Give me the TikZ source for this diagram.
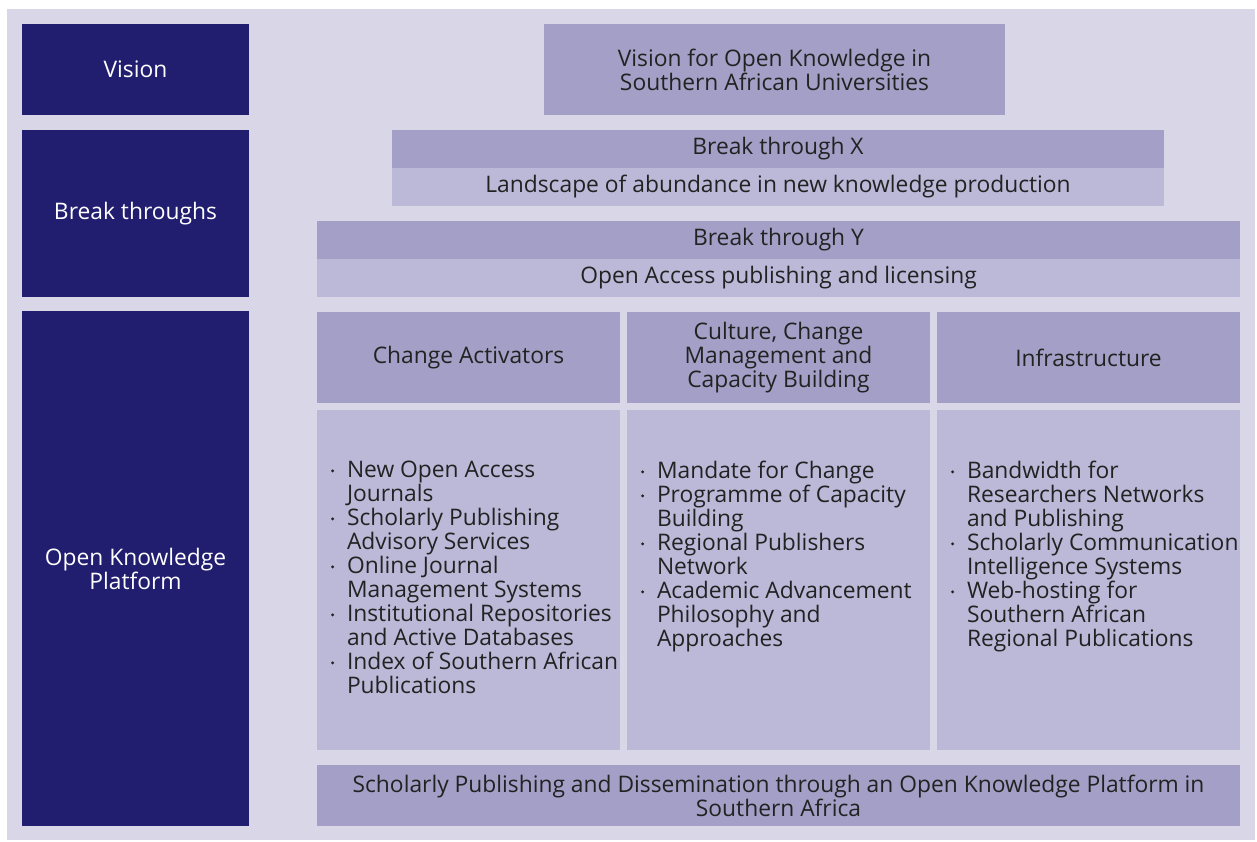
\documentclass[tikz,border=0pt]{standalone}
\usepackage{fontspec}
\setmainfont{Open Sans}
\definecolor{bgc}{HTML}{D8D6E7}
\definecolor{navy}{HTML}{221E6F}
\definecolor{hdr}{HTML}{A39FC6}
\definecolor{lite}{HTML}{BCB8D8}
\definecolor{txt}{HTML}{222222}
\newcommand{\bitem}[1]{\makebox[16pt][l]{\raisebox{5pt}{\tikz\fill[txt] (0,0) circle (1.6pt);}}#1}
\newcommand{\bcont}[1]{\hspace*{16pt}#1}
\tikzset{
  every node/.style={inner sep=0pt, outer sep=0pt, font=\fontsize{22.8}{24}\selectfont},
  sidebox/.style={anchor=north west, fill=navy, text=white, align=center},
  hdrbox/.style={anchor=north west, fill=hdr, text=txt, align=center},
  litebox/.style={anchor=north west, fill=lite, text=txt, align=center},
  listtext/.style={anchor=north west, text=txt, align=left}
}
\begin{document}
\begin{tikzpicture}[x=1pt,y=-1pt]
\useasboundingbox (0,0) rectangle (1257,842);
\fill[bgc] (7,9) rectangle (1255,840);
% left column
\node[sidebox, minimum width=227pt, minimum height=91pt] (vis) at (22,24) {Vision};
\node[sidebox, minimum width=227pt, minimum height=167pt] (brk) at (22,130) {Break throughs};
\node[sidebox, minimum width=227pt, minimum height=515pt] (okp) at (22,311) {Open Knowledge\\Platform};
% vision
\node[hdrbox, minimum width=461pt, minimum height=91pt] (vtop) at (544,24) {Vision for Open Knowledge in\\Southern African Universities};
% break through X
\node[hdrbox, minimum width=772pt, minimum height=38pt] (bx) at (392,130) {Break through X};
\node[litebox, minimum width=772pt, minimum height=38pt] (bxl) at (392,168) {Landscape of abundance in new knowledge production};
% break through Y
\node[hdrbox, minimum width=923pt, minimum height=38pt] (by) at (317,221) {Break through Y};
\node[litebox, minimum width=923pt, minimum height=38pt] (byl) at (317,259) {Open Access publishing and licensing};
% column headers
\node[hdrbox, minimum width=303pt, minimum height=91pt] (h1) at (317,312) {Change Activators};
\node[hdrbox, minimum width=303pt, minimum height=91pt] (h2) at (627,312) {Culture, Change\\Management and\\Capacity Building};
\node[hdrbox, minimum width=303pt, minimum height=91pt] (h3) at (937,312) {Infrastructure};
% column contents
\node[litebox, minimum width=303pt, minimum height=340pt] (c1) at (317,410) {};
\node[litebox, minimum width=303pt, minimum height=340pt] (c2) at (627,410) {};
\node[litebox, minimum width=303pt, minimum height=340pt] (c3) at (937,410) {};
\node[listtext] (l1) at (331,461) {\bitem{New Open Access}\\\bcont{Journals}\\\bitem{Scholarly Publishing}\\\bcont{Advisory Services}\\\bitem{Online Journal}\\\bcont{Management Systems}\\\bitem{Institutional Repositories}\\\bcont{and Active Databases}\\\bitem{Index of Southern African}\\\bcont{Publications}};
\node[listtext] (l2) at (641,461) {\bitem{Mandate for Change}\\\bitem{Programme of Capacity}\\\bcont{Building}\\\bitem{Regional Publishers}\\\bcont{Network}\\\bitem{Academic Advancement}\\\bcont{Philosophy and}\\\bcont{Approaches}};
\node[listtext] (l3) at (951,461) {\bitem{Bandwidth for}\\\bcont{Researchers Networks}\\\bcont{and Publishing}\\\bitem{Scholarly Communication}\\\bcont{Intelligence Systems}\\\bitem{Web-hosting for}\\\bcont{Southern African}\\\bcont{Regional Publications}};
% bottom
\node[hdrbox, minimum width=923pt, minimum height=61pt] (bot) at (317,765) {Scholarly Publishing and Dissemination through an Open Knowledge Platform in\\Southern Africa};
\end{tikzpicture}
\end{document}
